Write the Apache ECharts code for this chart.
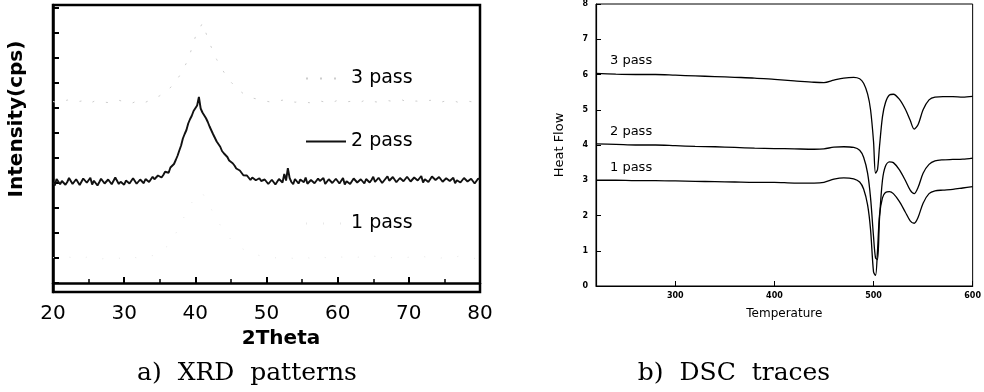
<!DOCTYPE html>
<html>
<head>
<meta charset="utf-8">
<script src="https://cdn.jsdelivr.net/npm/echarts@6/dist/echarts.min.js"></script>
<style>
html,body{margin:0;padding:0;background:#fff;}
#chart{width:984px;height:392px;}
</style>
</head>
<body>
<div id="chart"></div>
<script>
// ---------- XRD panel data (2Theta vs intensity, arbitrary units) ----------
const xrdTheta2 = [
  20,20.25,20.5,20.75,21,21.25,21.5,21.75,22,22.25,22.5,22.75,23,23.25,23.5,23.75,24,24.25,24.5,24.75,
  25,25.25,25.5,25.75,26,26.25,26.5,26.75,27,27.25,27.5,27.75,28,28.25,28.5,28.75,29,29.25,29.5,29.75,
  30,30.25,30.5,30.75,31,31.25,31.5,31.75,32,32.25,32.5,32.75,33,33.25,33.5,33.75,34,34.25,34.5,34.75,
  35,35.25,35.5,35.75,36,36.25,36.5,36.75,37,37.25,37.5,37.75,38,38.25,38.5,38.75,39,39.25,39.5,39.75,
  40,40.25,40.5,40.75,41,41.25,41.5,41.75,42,42.25,42.5,42.75,43,43.25,43.5,43.75,44,44.25,44.5,44.75,
  45,45.25,45.5,45.75,46,46.25,46.5,46.75,47,47.25,47.5,47.75,48,48.25,48.5,48.75,49,49.25,49.5,49.75,
  50,50.25,50.5,50.75,51,51.25,51.5,51.75,52,52.25,52.5,52.75,53,53.25,53.5,53.75,54,54.25,54.5,54.75,
  55,55.25,55.5,55.75,56,56.25,56.5,56.75,57,57.25,57.5,57.75,58,58.25,58.5,58.75,59,59.25,59.5,59.75,
  60,60.25,60.5,60.75,61,61.25,61.5,61.75,62,62.25,62.5,62.75,63,63.25,63.5,63.75,64,64.25,64.5,64.75,
  65,65.25,65.5,65.75,66,66.25,66.5,66.75,67,67.25,67.5,67.75,68,68.25,68.5,68.75,69,69.25,69.5,69.75,
  70,70.25,70.5,70.75,71,71.25,71.5,71.75,72,72.25,72.5,72.75,73,73.25,73.5,73.75,74,74.25,74.5,74.75,
  75,75.25,75.5,75.75,76,76.25,76.5,76.75,77,77.25,77.5,77.75,78,78.25,78.5,78.75,79,79.25,79.5,79.75,
  80];
const xrdPass2 = [
  4.02,3.90,4.16,4.24,3.95,4.08,4.11,3.93,4.04,4.20,4.22,3.96,3.97,4.15,4.13,3.92,4.00,4.18,4.19,4.01,
  4.06,4.21,3.94,4.09,4.15,3.90,4.03,4.17,4.24,3.98,3.99,4.14,4.10,3.95,4.01,4.22,4.18,3.96,4.05,4.13,
  3.93,4.10,4.12,3.98,4.03,4.19,4.21,3.97,3.98,4.14,4.09,3.99,4.16,4.24,4.04,4.12,4.25,4.15,4.19,4.30,
  4.36,4.22,4.32,4.45,4.49,4.41,4.62,4.70,4.76,4.92,5.09,5.30,5.50,5.78,5.96,6.12,6.38,6.55,6.69,6.88,
  6.92,7.10,7.44,6.98,6.82,6.75,6.59,6.44,6.26,6.18,5.95,5.88,5.66,5.60,5.45,5.28,5.19,5.12,5.04,4.90,
  4.82,4.79,4.70,4.58,4.56,4.50,4.45,4.31,4.34,4.30,4.27,4.12,4.22,4.26,4.11,4.03,4.19,4.08,4.02,4.14,
  4.15,3.96,4.00,4.13,4.10,3.94,3.97,4.16,4.13,4.02,4.36,4.10,4.59,4.20,4.04,3.95,4.16,4.10,3.98,4.14,
  4.11,4.03,4.22,3.97,4.01,4.12,4.14,3.99,3.95,4.18,4.08,4.13,4.20,3.96,4.03,4.15,4.12,4.00,3.99,4.17,
  4.17,3.98,4.06,4.20,3.94,4.07,4.13,3.96,4.04,4.18,4.21,4.02,4.00,4.15,4.09,3.98,4.16,4.23,4.02,4.12,
  4.25,4.04,4.08,4.21,4.19,4.00,4.06,4.18,4.27,4.09,4.11,4.24,4.22,4.03,4.05,4.20,4.16,4.07,4.10,4.25,
  4.24,4.06,4.07,4.22,4.20,4.10,4.13,4.28,4.02,4.15,4.22,4.04,4.09,4.26,4.29,4.12,4.11,4.24,4.17,4.05,
  4.04,4.19,4.23,4.08,4.08,4.21,3.99,4.11,4.16,4.02,4.05,4.20,4.19,4.06,4.01,4.17,4.12,3.98,4.06,4.18,
  4.14];
const xrdTheta = [20,21,22,23,24,25,26,27,28,29,30,31,32,33,34,35,36,37,38,39,40,41,42,43,44,45,46,47,48,49,
  50,51,52,53,54,55,56,57,58,59,60,61,62,63,64,65,66,67,68,69,70,71,72,73,74,75,76,77,78,79,80];
const xrdPass3 = [7.26,7.19,7.32,7.22,7.28,7.16,7.30,7.24,7.21,7.33,7.25,7.18,7.31,7.23,7.36,7.49,7.70,7.94,8.39,8.94,
  9.84,10.40,9.59,8.94,8.44,8.04,7.74,7.52,7.40,7.34,7.27,7.22,7.30,7.35,7.23,7.28,7.21,7.32,7.25,7.19,
  7.31,7.24,7.27,7.20,7.34,7.26,7.22,7.30,7.25,7.33,7.21,7.28,7.24,7.31,7.19,7.27,7.32,7.22,7.29,7.24,7.26];
const xrdPass1 = [1.02,0.96,1.05,0.99,0.94,1.07,1.00,0.97,1.04,1.01,0.95,1.06,0.99,1.03,1.10,1.22,1.46,1.84,2.39,2.99,
  3.44,3.60,3.09,2.54,2.09,1.74,1.49,1.30,1.18,1.10,1.04,0.99,1.06,1.02,0.97,1.05,1.00,0.94,1.03,0.98,
  1.07,1.01,0.96,1.04,0.99,1.08,1.02,0.97,1.05,1.00,1.03,0.98,1.06,1.01,0.95,1.04,0.99,1.07,1.02,0.97,1.03];
const xrdLegendNames = ['3 pass', '2 pass', '1 pass'];

// ---------- DSC panel data (Temperature vs heat flow) ----------
const dscTemp = [220,240,260,280,300,320,340,360,380,400,420,440,450,460,470,480,486,490,494,497,
  500,502,504,506,509,512,516,520,526,532,537,541,545,550,556,562,570,580,590,600];
const dscPass3 = [6.03,6.01,6.00,6.00,5.98,5.96,5.94,5.92,5.90,5.86,5.82,5.78,5.77,5.84,5.90,5.92,5.88,5.75,5.45,5.00,
  4.10,3.20,3.30,3.95,4.80,5.20,5.42,5.44,5.30,5.02,4.70,4.45,4.58,5.00,5.28,5.36,5.37,5.37,5.36,5.38];
const dscPass2 = [4.03,4.02,4.00,4.00,3.98,3.96,3.95,3.93,3.91,3.90,3.89,3.88,3.89,3.94,3.95,3.93,3.85,3.65,3.20,2.50,
  1.40,0.80,0.75,1.90,3.00,3.40,3.52,3.50,3.30,3.00,2.72,2.62,2.80,3.20,3.45,3.55,3.58,3.59,3.60,3.63];
const dscPass1 = [3.00,3.00,2.99,2.99,2.98,2.97,2.96,2.95,2.94,2.94,2.92,2.92,2.94,3.03,3.07,3.04,2.95,2.75,2.30,1.60,
  0.40,0.30,1.00,2.00,2.50,2.65,2.68,2.62,2.40,2.10,1.85,1.78,1.95,2.35,2.62,2.70,2.72,2.74,2.78,2.82];
const dscLabels = ['3 pass', '2 pass', '1 pass'];

const zip = (xs, ys) => xs.map((x, i) => [x, ys[i]]);
const SANS = 'DejaVu Sans';
const SERIF = 'DejaVu Serif';

const chart = echarts.init(document.getElementById('chart'), null, {renderer: 'canvas'});

const legendBase = {
  orient: 'horizontal', left: 305, padding: 0, itemWidth: 40, itemHeight: 14,
  selectedMode: false,
  itemStyle: {opacity: 0},
  textStyle: {fontFamily: SANS, fontSize: 19, color: '#000'}
};

chart.setOption({
  animation: false,
  backgroundColor: '#fff',
  grid: [
    {left: 53, top: 5, width: 427, height: 287, show: true, borderColor: '#000', borderWidth: 2.5, backgroundColor: 'transparent'},
    {left: 596, top: 2, width: 379, height: 284, show: true, borderColor: '#000', borderWidth: 1, backgroundColor: 'transparent'}
  ],
  legend: [
    Object.assign({}, legendBase, {data: [xrdLegendNames[0]], top: 69}),
    Object.assign({}, legendBase, {data: [xrdLegendNames[1]], top: 132}),
    Object.assign({}, legendBase, {data: [xrdLegendNames[2]], top: 214})
  ],
  xAxis: [
    {
      gridIndex: 0, type: 'value', min: 20, max: 80, interval: 10,
      axisLine: {lineStyle: {color: '#000', width: 2.5}},
      axisTick: {inside: true, length: 6, lineStyle: {color: '#000', width: 2}},
      minorTick: {show: true, splitNumber: 2, length: 4, lineStyle: {color: '#000', width: 1.5}},
      splitLine: {show: false},
      axisLabel: {fontFamily: SANS, fontSize: 20, color: '#000', margin: 12},
      name: '2Theta', nameLocation: 'middle', nameGap: 37,
      nameTextStyle: {fontFamily: SANS, fontSize: 20, fontWeight: 'bold', color: '#000', padding: [0, 0, 0, 29]}
    },
    {
      gridIndex: 1, type: 'value', min: 220, max: 600, splitNumber: 4, minInterval: 100, maxInterval: 100,
      axisLine: {lineStyle: {color: '#000', width: 1.2}},
      axisTick: {inside: true, length: 5, lineStyle: {color: '#000', width: 1}},
      splitLine: {show: false},
      axisLabel: {fontFamily: SANS, fontSize: 8, fontWeight: 'bold', color: '#000', margin: 6, showMinLabel: false},
      name: 'Temperature', nameLocation: 'middle', nameGap: 22,
      nameTextStyle: {fontFamily: SANS, fontSize: 12, color: '#000'}
    }
  ],
  yAxis: [
    {
      gridIndex: 0, type: 'value', min: -0.36, max: 11.12, splitNumber: 12, minInterval: 1, maxInterval: 1,
      axisLine: {show: true, lineStyle: {color: '#000', width: 2.5}},
      axisTick: {show: true, inside: true, length: 6, lineStyle: {color: '#000', width: 2}},
      splitLine: {show: false},
      axisLabel: {show: false},
      name: 'Intensity(cps)', nameLocation: 'middle', nameGap: 26,
      nameTextStyle: {fontFamily: SANS, fontSize: 20, fontWeight: 'bold', color: '#000', padding: [0, 0, 0, 59]}
    },
    {
      gridIndex: 1, type: 'value', min: 0, max: 8, interval: 1,
      axisLine: {show: true, lineStyle: {color: '#000', width: 1.2}},
      axisTick: {show: true, inside: true, length: 5, lineStyle: {color: '#000', width: 1}},
      splitLine: {show: false},
      axisLabel: {fontFamily: SANS, fontSize: 8, fontWeight: 'bold', color: '#000', margin: 8},
      name: 'Heat Flow', nameLocation: 'middle', nameGap: 30,
      nameTextStyle: {fontFamily: SANS, fontSize: 13, color: '#000'}
    }
  ],
  series: [
    {name: xrdLegendNames[0], type: 'line', xAxisIndex: 0, yAxisIndex: 0, data: zip(xrdTheta, xrdPass3),
     symbol: 'none', lineStyle: {color: '#cdcdcd', width: 1, type: [2, 12]}, itemStyle: {color: '#cdcdcd'}},
    {name: xrdLegendNames[1], type: 'line', xAxisIndex: 0, yAxisIndex: 0, data: zip(xrdTheta2, xrdPass2),
     symbol: 'none', lineStyle: {color: '#111', width: 1.9}, itemStyle: {color: '#111'}},
    {name: xrdLegendNames[2], type: 'line', xAxisIndex: 0, yAxisIndex: 0, data: zip(xrdTheta, xrdPass1),
     symbol: 'none', lineStyle: {color: '#e8e8e8', width: 1, type: [1, 16]}, itemStyle: {color: '#ffffff'}},
    {name: 'DSC ' + dscLabels[0], type: 'line', xAxisIndex: 1, yAxisIndex: 1, data: zip(dscTemp, dscPass3),
     symbol: 'none', smooth: 0.3, lineStyle: {color: '#000', width: 1.3}},
    {name: 'DSC ' + dscLabels[1], type: 'line', xAxisIndex: 1, yAxisIndex: 1, data: zip(dscTemp, dscPass2),
     symbol: 'none', smooth: 0.3, lineStyle: {color: '#000', width: 1.3}},
    {name: 'DSC ' + dscLabels[2], type: 'line', xAxisIndex: 1, yAxisIndex: 1, data: zip(dscTemp, dscPass1),
     symbol: 'none', smooth: 0.3, lineStyle: {color: '#000', width: 1.3}}
  ],
  graphic: [
    {type: 'text', x: 610, y: 61, style: {text: dscLabels[0], fontFamily: SANS, fontSize: 13, fill: '#000', align: 'left', verticalAlign: 'middle'}},
    {type: 'text', x: 610, y: 132, style: {text: dscLabels[1], fontFamily: SANS, fontSize: 13, fill: '#000', align: 'left', verticalAlign: 'middle'}},
    {type: 'text', x: 610, y: 168, style: {text: dscLabels[2], fontFamily: SANS, fontSize: 13, fill: '#000', align: 'left', verticalAlign: 'middle'}},
    {type: 'text', x: 247, y: 373, style: {text: 'a)  XRD  patterns', fontFamily: SERIF, fontSize: 25, fill: '#000', align: 'center', verticalAlign: 'middle'}},
    {type: 'text', x: 734, y: 373, style: {text: 'b)  DSC  traces', fontFamily: SERIF, fontSize: 25, fill: '#000', align: 'center', verticalAlign: 'middle'}}
  ]
});
</script>
</body>
</html>
